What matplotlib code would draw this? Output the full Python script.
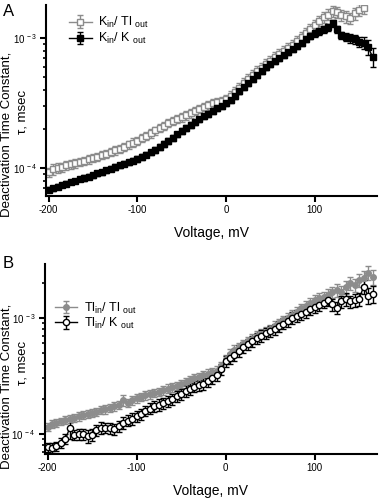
import numpy as np
import matplotlib
matplotlib.use("Agg")
import matplotlib.pyplot as plt
import matplotlib.ticker as ticker

plt.rcParams['font.family'] = ['Liberation Sans', 'DejaVu Sans']
plt.rcParams['mathtext.fontset'] = 'custom'
plt.rcParams['mathtext.rm'] = 'Liberation Sans'

# voltages (mV)
v_a_gray = np.arange(-200, 156, 5)
v_a_black = np.arange(-200, 166, 5)
v_b = np.arange(-200, 166, 5)

# Panel A: K_in / Tl_out (grey open squares), msec
tau_a_gray = [9.3e-5, 9.8e-5, 1.00e-4, 1.02e-4, 1.05e-4, 1.07e-4, 1.09e-4, 1.12e-4,
              1.14e-4, 1.17e-4, 1.20e-4, 1.22e-4, 1.26e-4, 1.29e-4, 1.33e-4, 1.37e-4,
              1.41e-4, 1.46e-4, 1.52e-4, 1.57e-4, 1.63e-4, 1.70e-4, 1.78e-4, 1.86e-4,
              1.95e-4, 2.05e-4, 2.12e-4, 2.22e-4, 2.30e-4, 2.38e-4, 2.46e-4, 2.55e-4,
              2.65e-4, 2.75e-4, 2.85e-4, 2.96e-4, 3.05e-4, 3.15e-4, 3.22e-4, 3.30e-4,
              3.40e-4, 3.60e-4, 3.85e-4, 4.15e-4, 4.50e-4, 4.85e-4, 5.20e-4, 5.55e-4,
              5.90e-4, 6.30e-4, 6.70e-4, 7.10e-4, 7.50e-4, 7.90e-4, 8.40e-4, 8.90e-4,
              9.50e-4, 1.02e-3, 1.10e-3, 1.18e-3, 1.27e-3, 1.36e-3, 1.45e-3, 1.52e-3,
              1.62e-3, 1.58e-3, 1.50e-3, 1.47e-3, 1.43e-3, 1.55e-3, 1.66e-3, 1.72e-3]
err_a_gray = [8e-6, 1.0e-5, 9e-6, 8e-6, 9e-6, 8e-6, 9e-6, 8e-6,
              8e-6, 9e-6, 9e-6, 8e-6, 9e-6, 1.0e-5, 9e-6, 1.0e-5,
              1.0e-5, 1.1e-5, 1.1e-5, 1.2e-5, 1.2e-5, 1.2e-5, 1.3e-5, 1.4e-5,
              1.4e-5, 1.5e-5, 1.5e-5, 1.6e-5, 1.7e-5, 1.7e-5, 1.8e-5, 1.9e-5,
              2.0e-5, 2.0e-5, 2.1e-5, 2.2e-5, 2.3e-5, 2.4e-5, 2.4e-5, 2.5e-5,
              2.8e-5, 3.2e-5, 3.6e-5, 4.0e-5, 4.2e-5, 4.5e-5, 4.8e-5, 5.2e-5,
              5.5e-5, 6.0e-5, 6.3e-5, 6.6e-5, 7.0e-5, 7.5e-5, 8.0e-5, 8.5e-5,
              9.0e-5, 9.8e-5, 1.05e-4, 1.12e-4, 1.2e-4, 1.3e-4, 1.4e-4, 1.45e-4,
              1.55e-4, 1.6e-4, 1.5e-4, 1.5e-4, 1.45e-4, 1.6e-4, 1.7e-4, 1.8e-4]

# Panel A: K_in / K_out (black filled squares)
tau_a_black = [6.8e-5, 7.0e-5, 7.2e-5, 7.4e-5, 7.6e-5, 7.8e-5, 8.0e-5, 8.2e-5,
               8.4e-5, 8.6e-5, 8.8e-5, 9.1e-5, 9.3e-5, 9.6e-5, 9.9e-5, 1.02e-4,
               1.05e-4, 1.08e-4, 1.11e-4, 1.14e-4, 1.18e-4, 1.22e-4, 1.27e-4, 1.32e-4,
               1.38e-4, 1.45e-4, 1.53e-4, 1.62e-4, 1.72e-4, 1.82e-4, 1.93e-4, 2.03e-4,
               2.14e-4, 2.25e-4, 2.37e-4, 2.50e-4, 2.62e-4, 2.75e-4, 2.88e-4, 3.00e-4,
               3.15e-4, 3.35e-4, 3.60e-4, 3.90e-4, 4.20e-4, 4.50e-4, 4.85e-4, 5.20e-4,
               5.55e-4, 5.95e-4, 6.30e-4, 6.70e-4, 7.00e-4, 7.40e-4, 7.80e-4, 8.20e-4,
               8.70e-4, 9.20e-4, 9.80e-4, 1.04e-3, 1.09e-3, 1.13e-3, 1.17e-3, 1.22e-3,
               1.30e-3, 1.17e-3, 1.05e-3, 1.02e-3, 1.00e-3, 9.8e-4, 9.4e-4, 9.2e-4,
               8.5e-4, 7.2e-4]
err_a_black = [3e-6, 3e-6, 3e-6, 3e-6, 3e-6, 3e-6, 3e-6, 3e-6,
               4e-6, 4e-6, 4e-6, 4e-6, 4e-6, 4e-6, 4e-6, 5e-6,
               5e-6, 5e-6, 5e-6, 5e-6, 6e-6, 6e-6, 6e-6, 6e-6,
               7e-6, 7e-6, 8e-6, 8e-6, 9e-6, 9e-6, 1.0e-5, 1.0e-5,
               1.1e-5, 1.1e-5, 1.2e-5, 1.3e-5, 1.3e-5, 1.4e-5, 1.5e-5, 1.5e-5,
               1.6e-5, 1.7e-5, 1.8e-5, 2.0e-5, 2.1e-5, 2.3e-5, 2.5e-5, 2.6e-5,
               2.8e-5, 3.0e-5, 3.2e-5, 3.4e-5, 3.5e-5, 3.7e-5, 4.0e-5, 4.2e-5,
               4.5e-5, 4.8e-5, 5.0e-5, 5.5e-5, 6.0e-5, 6.5e-5, 7.0e-5, 7.5e-5,
               8.0e-5, 7.5e-5, 7.0e-5, 7.0e-5, 7.5e-5, 8.0e-5, 9.0e-5, 1.0e-4,
               1.1e-4, 1.2e-4]

# Panel B: Tl_in / Tl_out (grey filled circles)
tau_b_gray = [1.15e-4, 1.22e-4, 1.25e-4, 1.28e-4, 1.32e-4, 1.35e-4, 1.38e-4, 1.42e-4,
              1.45e-4, 1.48e-4, 1.52e-4, 1.55e-4, 1.60e-4, 1.63e-4, 1.68e-4, 1.72e-4,
              1.78e-4, 1.95e-4, 1.85e-4, 1.95e-4, 2.02e-4, 2.08e-4, 2.15e-4, 2.20e-4,
              2.25e-4, 2.30e-4, 2.38e-4, 2.45e-4, 2.52e-4, 2.60e-4, 2.70e-4, 2.80e-4,
              2.90e-4, 3.00e-4, 3.10e-4, 3.20e-4, 3.30e-4, 3.40e-4, 3.50e-4, 3.80e-4,
              4.40e-4, 4.90e-4, 5.30e-4, 5.60e-4, 5.90e-4, 6.30e-4, 6.60e-4, 7.00e-4,
              7.30e-4, 7.60e-4, 8.00e-4, 8.50e-4, 9.00e-4, 9.50e-4, 1.00e-3, 1.06e-3,
              1.12e-3, 1.20e-3, 1.27e-3, 1.35e-3, 1.42e-3, 1.48e-3, 1.52e-3, 1.58e-3,
              1.65e-3, 1.72e-3, 1.68e-3, 1.85e-3, 2.00e-3, 1.90e-3, 2.10e-3, 2.20e-3,
              2.45e-3, 2.25e-3]
err_b_gray = [9e-6, 1.0e-5, 1.0e-5, 1.0e-5, 1.1e-5, 1.1e-5, 1.1e-5, 1.2e-5,
              1.2e-5, 1.2e-5, 1.3e-5, 1.3e-5, 1.3e-5, 1.4e-5, 1.4e-5, 1.5e-5,
              1.5e-5, 2.0e-5, 1.6e-5, 1.7e-5, 1.7e-5, 1.8e-5, 1.8e-5, 1.9e-5,
              1.9e-5, 2.0e-5, 2.0e-5, 2.1e-5, 2.2e-5, 2.2e-5, 2.3e-5, 2.4e-5,
              2.5e-5, 2.6e-5, 2.7e-5, 2.8e-5, 2.9e-5, 3.0e-5, 3.1e-5, 3.4e-5,
              4.0e-5, 4.4e-5, 4.8e-5, 5.0e-5, 5.3e-5, 5.6e-5, 6.0e-5, 6.3e-5,
              6.6e-5, 7.0e-5, 7.3e-5, 7.8e-5, 8.2e-5, 8.7e-5, 9.2e-5, 1.0e-4,
              1.05e-4, 1.1e-4, 1.2e-4, 1.3e-4, 1.4e-4, 1.5e-4, 1.6e-4, 1.7e-4,
              1.8e-4, 2.2e-4, 2.0e-4, 2.4e-4, 2.6e-4, 2.5e-4, 2.8e-4, 3.0e-4,
              3.5e-4, 3.2e-4]

# Panel B: Tl_in / K_out (black open circles)
tau_b_black = [7.7e-5, 7.6e-5, 7.8e-5, 8.4e-5, 9.0e-5, 1.12e-4, 9.8e-5, 1.00e-4,
               1.00e-4, 9.6e-5, 9.8e-5, 1.08e-4, 1.13e-4, 1.13e-4, 1.12e-4, 1.10e-4,
               1.16e-4, 1.25e-4, 1.30e-4, 1.35e-4, 1.42e-4, 1.48e-4, 1.58e-4, 1.65e-4,
               1.72e-4, 1.78e-4, 1.85e-4, 1.92e-4, 2.00e-4, 2.10e-4, 2.20e-4, 2.35e-4,
               2.45e-4, 2.55e-4, 2.62e-4, 2.70e-4, 2.85e-4, 3.00e-4, 3.20e-4, 3.60e-4,
               4.20e-4, 4.50e-4, 4.80e-4, 5.20e-4, 5.60e-4, 5.90e-4, 6.30e-4, 6.70e-4,
               7.00e-4, 7.40e-4, 7.70e-4, 8.00e-4, 8.40e-4, 8.90e-4, 9.40e-4, 1.00e-3,
               1.04e-3, 1.08e-3, 1.12e-3, 1.18e-3, 1.23e-3, 1.28e-3, 1.35e-3, 1.42e-3,
               1.30e-3, 1.22e-3, 1.38e-3, 1.45e-3, 1.38e-3, 1.42e-3, 1.45e-3, 1.85e-3,
               1.55e-3, 1.60e-3]
err_b_black = [7e-6, 7e-6, 7e-6, 8e-6, 9e-6, 2.2e-5, 1.0e-5, 1.1e-5,
               1.1e-5, 1.2e-5, 1.2e-5, 1.2e-5, 1.3e-5, 1.2e-5, 1.2e-5, 1.2e-5,
               1.3e-5, 1.4e-5, 1.4e-5, 1.5e-5, 1.6e-5, 1.6e-5, 1.7e-5, 1.8e-5,
               1.9e-5, 2.0e-5, 2.0e-5, 2.1e-5, 2.2e-5, 2.3e-5, 2.4e-5, 2.6e-5,
               2.7e-5, 2.8e-5, 2.9e-5, 3.0e-5, 3.1e-5, 3.3e-5, 3.5e-5, 4.0e-5,
               4.6e-5, 5.0e-5, 5.3e-5, 5.7e-5, 6.2e-5, 6.5e-5, 6.9e-5, 7.4e-5,
               7.7e-5, 8.1e-5, 8.5e-5, 8.8e-5, 9.2e-5, 9.8e-5, 1.03e-4, 1.1e-4,
               1.15e-4, 1.2e-4, 1.25e-4, 1.3e-4, 1.35e-4, 1.4e-4, 1.5e-4, 1.6e-4,
               1.6e-4, 1.5e-4, 1.7e-4, 1.8e-4, 1.7e-4, 1.8e-4, 1.9e-4, 2.6e-4,
               2.4e-4, 2.6e-4]

grey = '#8c8c8c'

fig = plt.figure(figsize=(3.8, 5.0), dpi=100)
ax1 = fig.add_axes([0.121, 0.608, 0.871, 0.382])
ax2 = fig.add_axes([0.118, 0.092, 0.874, 0.380])


def style_axes(ax, ylim):
    ax.set_yscale('log')
    ax.set_xlim(-203, 170)
    ax.set_ylim(*ylim)
    for s in ['top', 'right']:
        ax.spines[s].set_visible(False)
    for s in ['left', 'bottom']:
        ax.spines[s].set_linewidth(1.5)
    ax.set_xticks([-200, -100, 0, 100])
    ax.set_xticklabels(['-200', '-100', '0', '100'])
    ax.set_yticks([1e-4, 1e-3])
    ax.set_yticklabels([r'10$^{\,-4}$', r'10$^{\,-3}$'])
    ax.yaxis.set_minor_locator(ticker.LogLocator(base=10.0, subs=np.arange(2, 10), numticks=10))
    ax.yaxis.set_minor_formatter(ticker.NullFormatter())
    ax.tick_params(which='major', direction='out', length=4, width=1.5, labelsize=7, pad=2.5)
    ax.tick_params(which='minor', direction='out', length=2.5, width=1.2)
    ax.set_xlabel('Voltage, mV', fontsize=10, labelpad=8)


def ylabel(y1, y2):
    # two-line y label, each line placed on its own like in the original
    fig.text(0.017, y1, 'Deactivation Time Constant,', rotation=90, fontsize=9.5,
             ha='center', va='center')
    fig.text(0.058, y2, 'τ, msec', rotation=90, fontsize=9.5, ha='center', va='center')


# Panel A
ax1.errorbar(v_a_gray, tau_a_gray, yerr=err_a_gray, color=grey, marker='s', markersize=4,
             markerfacecolor='white', markeredgecolor=grey, markeredgewidth=1,
             linewidth=1, capsize=2, elinewidth=1, label=r'K$_{\mathregular{in}}$/ Tl $_{\mathregular{out}}$')
ax1.errorbar(v_a_black, tau_a_black, yerr=err_a_black, color='black', marker='s', markersize=4,
             markerfacecolor='black', linewidth=1, capsize=2, elinewidth=1,
             label=r'K$_{\mathregular{in}}$/ K $_{\mathregular{out}}$')
style_axes(ax1, (6.1e-5, 1.8e-3))
ax1.legend(loc='upper left', bbox_to_anchor=(0.04, 1.0), frameon=False, fontsize=9,
           handlelength=1.8, handletextpad=0.5, labelspacing=0.1, borderpad=0.3)
fig.text(0.008, 0.978, 'A', fontsize=12, va='center')
ylabel(0.732, 0.776)

# Panel B
ax2.errorbar(v_b, tau_b_gray, yerr=err_b_gray, color=grey, marker='o', markersize=4,
             markerfacecolor=grey, markeredgecolor=grey, linewidth=1, capsize=2,
             elinewidth=1, label=r'Tl$_{\mathregular{in}}$/ Tl $_{\mathregular{out}}$')
ax2.errorbar(v_b, tau_b_black, yerr=err_b_black, color='black', marker='o', markersize=4.5,
             markerfacecolor='white', markeredgecolor='black', markeredgewidth=1,
             linewidth=1, capsize=2, elinewidth=1,
             label=r'Tl$_{\mathregular{in}}$/ K $_{\mathregular{out}}$')
style_axes(ax2, (6.7e-5, 2.9e-3))
ax2.legend(loc='upper left', bbox_to_anchor=(0.0, 0.86), frameon=False, fontsize=9,
           handlelength=1.8, handletextpad=0.5, labelspacing=0.0, borderpad=0.3)
fig.text(0.008, 0.474, 'B', fontsize=12, va='center')
ylabel(0.228, 0.274)

fig.savefig('out.png', dpi=100)
